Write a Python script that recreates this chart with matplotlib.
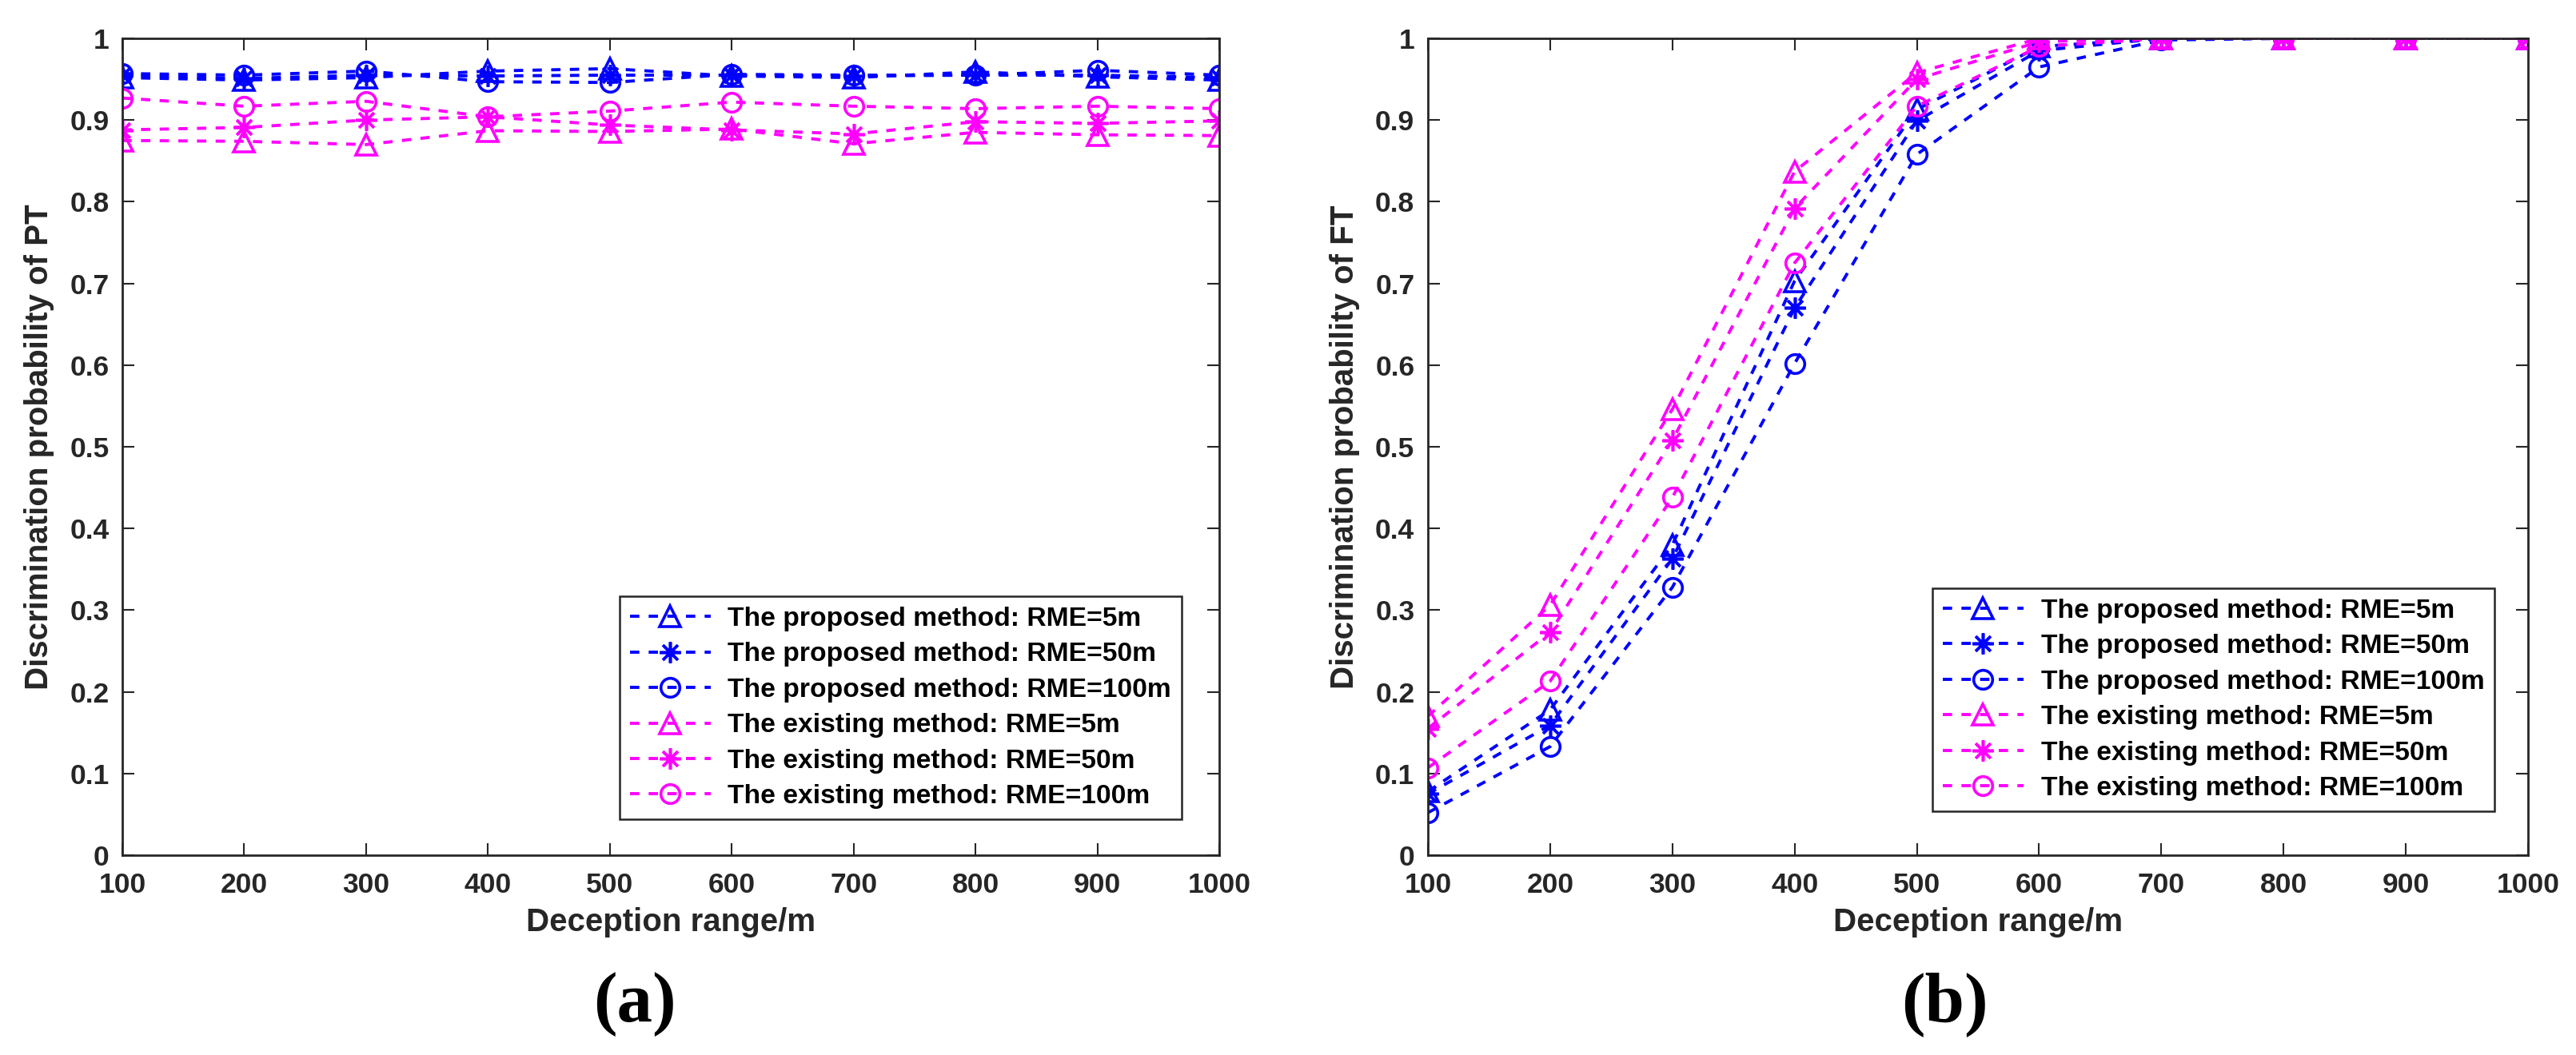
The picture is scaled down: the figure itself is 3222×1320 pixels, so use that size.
import matplotlib
matplotlib.use("Agg")
import matplotlib.pyplot as plt

# deception range (m)
ranges = [100, 200, 300, 400, 500, 600, 700, 800, 900, 1000]

# (a) discrimination probability of PT
pt_prop_5 = [0.952, 0.949, 0.952, 0.960, 0.963, 0.954, 0.952, 0.959, 0.953, 0.949]
pt_prop_50 = [0.955, 0.951, 0.955, 0.954, 0.955, 0.955, 0.954, 0.955, 0.955, 0.952]
pt_prop_100 = [0.957, 0.955, 0.960, 0.947, 0.946, 0.956, 0.955, 0.955, 0.961, 0.955]
pt_exist_5 = [0.875, 0.874, 0.870, 0.887, 0.886, 0.889, 0.871, 0.885, 0.882, 0.881]
pt_exist_50 = [0.888, 0.891, 0.900, 0.904, 0.894, 0.888, 0.883, 0.898, 0.896, 0.899]
pt_exist_100 = [0.927, 0.917, 0.923, 0.904, 0.911, 0.922, 0.917, 0.914, 0.917, 0.914]

# (b) discrimination probability of FT
ft_prop_5 = [0.078, 0.178, 0.380, 0.703, 0.913, 0.990, 1.0, 1.0, 1.0, 1.0]
ft_prop_50 = [0.075, 0.159, 0.363, 0.670, 0.899, 0.985, 1.0, 1.0, 1.0, 1.0]
ft_prop_100 = [0.052, 0.133, 0.328, 0.602, 0.858, 0.965, 0.998, 1.0, 1.0, 1.0]
ft_exist_5 = [0.170, 0.306, 0.546, 0.837, 0.958, 1.0, 1.0, 1.0, 1.0, 1.0]
ft_exist_50 = [0.155, 0.273, 0.508, 0.792, 0.950, 0.996, 1.0, 1.0, 1.0, 1.0]
ft_exist_100 = [0.107, 0.213, 0.438, 0.725, 0.917, 0.990, 1.0, 1.0, 1.0, 1.0]

labels = [
    "The proposed method: RME=5m",
    "The proposed method: RME=50m",
    "The proposed method: RME=100m",
    "The existing method: RME=5m",
    "The existing method: RME=50m",
    "The existing method: RME=100m",
]

BLUE = "#0000ff"
MAGENTA = "#ff00ff"
AXC = "#262626"
FONT = "Liberation Sans"

styles = [
    (BLUE, "^", 19),
    (BLUE, (8, 2, 0), 19),
    (BLUE, "o", 17),
    (MAGENTA, "^", 19),
    (MAGENTA, (8, 2, 0), 19),
    (MAGENTA, "o", 17),
]

fig = plt.figure(figsize=(32.22, 13.2), dpi=100)
ax_a = fig.add_axes([0.0475, 0.1894, 0.4258, 0.7742])
ax_b = fig.add_axes([0.5543, 0.1894, 0.4271, 0.7742])


def draw_panel(ax, series, ylabel, legend_anchor):
    for vals, lab, (col, mk, ms) in zip(series, labels, styles):
        ax.plot(ranges, vals, linestyle=(0, (3, 3)), linewidth=2.8, color=col,
                marker=mk, markersize=ms, markerfacecolor="none",
                markeredgecolor=col, markeredgewidth=2.6, label=lab)

    ax.set_xlim(100, 1000)
    ax.set_ylim(0, 1)
    ax.set_xticks(ranges)
    ax.set_yticks([i / 10 for i in range(11)])
    ax.set_yticklabels(["0"] + ["%.1f" % (i / 10) for i in range(1, 10)] + ["1"])
    ax.tick_params(direction="in", length=11, width=1.5, top=True, right=True,
                   colors=AXC, labelsize=25.5)
    ax.tick_params(axis="x", pad=15)
    ax.tick_params(axis="y", pad=12)
    for lab in ax.get_xticklabels() + ax.get_yticklabels():
        lab.set_fontfamily(FONT)
        lab.set_fontweight("bold")
    for sp in ax.spines.values():
        sp.set_color(AXC)
        sp.set_linewidth(2.0)

    ax.set_xlabel("Deception range/m", fontsize=29, fontweight="bold",
                  family=FONT, color=AXC, labelpad=8)
    ax.set_ylabel(ylabel, fontsize=29, fontweight="bold", family=FONT,
                  color=AXC, labelpad=14)

    leg = ax.legend(loc="lower right", bbox_to_anchor=legend_anchor,
                    borderaxespad=0, numpoints=1, handlelength=3.0,
                    handletextpad=0.65, labelspacing=0.4, borderpad=0.38,
                    fancybox=False, framealpha=1,
                    prop={"family": FONT, "weight": "bold", "size": 24.2})
    leg.get_frame().set_edgecolor(AXC)
    leg.get_frame().set_linewidth(1.8)


draw_panel(ax_a, [pt_prop_5, pt_prop_50, pt_prop_100, pt_exist_5, pt_exist_50, pt_exist_100],
           "Discrimination probability of PT", (0.9657, 0.044))
draw_panel(ax_b, [ft_prop_5, ft_prop_50, ft_prop_100, ft_exist_5, ft_exist_50, ft_exist_100],
           "Discrimination probability of FT", (0.9695, 0.054))

fig.text(794 / 3222, 1 - 1257 / 1320, "(a)", ha="center", va="center",
         fontsize=64, fontweight="bold", family="Liberation Serif", color="black")
fig.text(2432 / 3222, 1 - 1257 / 1320, "(b)", ha="center", va="center",
         fontsize=64, fontweight="bold", family="Liberation Serif", color="black")

fig.savefig("out.png", dpi=100, facecolor="white")
